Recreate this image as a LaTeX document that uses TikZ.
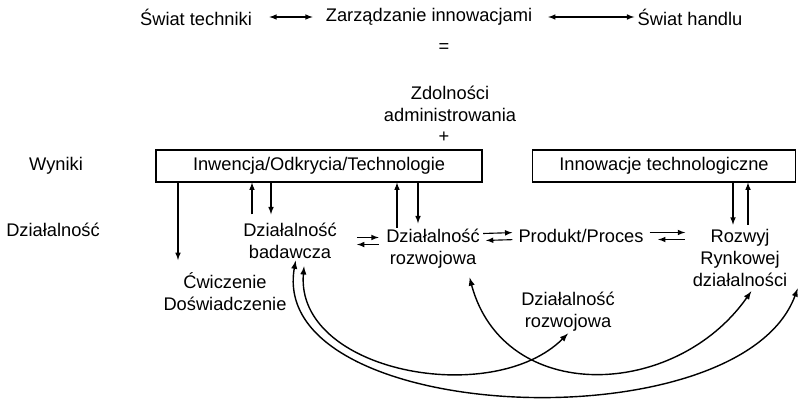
\documentclass[tikz,border=0pt]{standalone}
\usepackage{fontspec}
\setmainfont{Liberation Sans}
\usetikzlibrary{arrows}

\begin{document}
\begin{tikzpicture}[x=0.025cm,y=-0.025cm,>=latex,line width=0.8pt,
        every node/.style={font=\fontsize{13}{15.5}\selectfont,align=center,inner sep=1pt},
        ramka/.style={draw,minimum height=0.8cm},
        luk/.style={<->,line width=1pt}]
            \useasboundingbox (0,0) rectangle (802,401);
            \node (st) at (196,17) {Świat techniki};
            \node (zi) at (429,17) {Zarządzanie innowacjami};
            \node (sh) at (690,17) {Świat handlu};
            \draw[<->,shorten <=11pt,shorten >=8pt] (st.east) -- (zi.west);
            \draw[<->,shorten <=10pt,shorten >=1pt] (zi.east) -- (sh.west);
            \node (rown) at (444,48) {=};
            \node (zdol) at (450,104) {Zdolności\\administrowania};
            \node (plus) at (444,137) {+};

            \node[ramka,minimum width=8.15cm] (inw) at (319,166) {Inwencja/Odkrycia/Technologie};
            \node[ramka,minimum width=6.575cm] (inn) at (664,166) {Innowacje technologiczne};
            \node (wyn) at (56,166) {Wyniki};
            \node (dzl) at (53,230) {Działalność};

            \node (bad) at (290,241) {Działalność\\badawcza};
            \node (cw) at (225,292) {Ćwiczenie\\Doświadczenie};
            \node (roz) at (433,249) {Działalność\\rozwojowa};
            \node (pp) at (581,236) {Produkt/Proces};
            \node (rr) at (740,258) {Rozwyj\\Rynkowej\\działalności};
            \node (roz2) at (568,312) {Działalność\\rozwojowa};

            \coordinate (cwtop) at (178,260);
            \draw[->] (inw.south -| cwtop) -- (cwtop);
            \draw[->,shorten <=5pt] (bad.north -| 252,0) -- (inw.south -| 252,0);
            \draw[->,shorten >=5pt] (inw.south -| 271,0) -- (bad.north -| 271,0);
            \draw[->] (roz.north -| 397,0) -- (inw.south -| 397,0);
            \draw[->,shorten >=3pt] (inw.south -| 418,0) -- (roz.north -| 418,0);
            \draw[->,shorten >=2pt] (inn.south -| 733,0) -- (rr.north -| 733,0);
            \draw[->,shorten <=2pt] (rr.north -| 748,0) -- (inn.south -| 748,0);

            \draw[->,shorten <=13pt,shorten >=4pt] ([yshift=2.5pt]bad.east) -- ([yshift=2.5pt]bad.east -| roz.west);
            \draw[<-,shorten <=13pt,shorten >=4pt] ([yshift=-2.5pt]bad.east) -- ([yshift=-2.5pt]bad.east -| roz.west);
            \draw[->,shorten <=1pt,shorten >=3pt] ([yshift=11pt]roz.east) -- ([yshift=2.5pt]pp.west);
            \draw[<-,shorten <=3pt,shorten >=3pt] ([yshift=6pt]roz.east) -- ([yshift=-2.5pt]pp.west);
            \draw[->,shorten <=3pt,shorten >=4pt] ([yshift=2.5pt]pp.east) -- ([yshift=2.5pt]pp.east -| rr.west);
            \draw[<-,shorten <=9pt,shorten >=4pt] ([yshift=-2.5pt]pp.east) -- ([yshift=-2.5pt]pp.east -| rr.west);

            \draw[luk] ([xshift=26pt,yshift=-5pt]roz.south) to[out=-75,in=235,looseness=1.2] ([xshift=8pt,yshift=-2pt]rr.south);
            \draw[luk] ([xshift=10pt,yshift=-4pt]bad.south) to[out=-95,in=225] (roz2.south);
            \draw[luk] ([xshift=4pt]bad.south) to[out=-100,in=250,looseness=0.85] ([xshift=6pt]rr.south east);
        \end{tikzpicture}
\end{document}
